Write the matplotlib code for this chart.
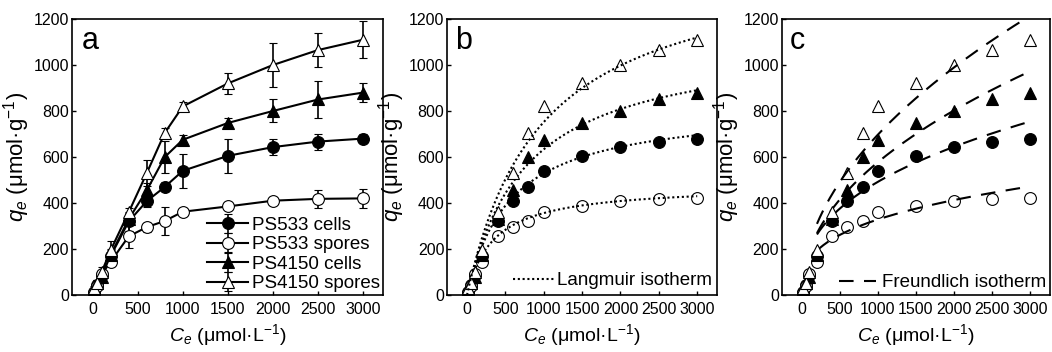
import numpy as np
import matplotlib
matplotlib.use("Agg")
import matplotlib.pyplot as plt

plt.rcParams['font.family'] = ['Liberation Sans', 'DejaVu Sans']
plt.rcParams['mathtext.fontset'] = 'custom'
plt.rcParams['mathtext.rm'] = 'Liberation Sans'
plt.rcParams['mathtext.it'] = 'Liberation Sans:italic'

# equilibrium concentrations (umol/L)
ce = [10, 50, 100, 200, 400, 600, 800, 1000, 1500, 2000, 2500, 3000]

# adsorbed amounts (umol/g)
ps533_cells = [15, 45, 85, 170, 320, 408, 470, 540, 605, 643, 667, 680]
ps533_spores = [10, 40, 90, 145, 255, 295, 322, 362, 385, 410, 418, 420]
ps4150_cells = [20, 50, 80, 175, 330, 455, 600, 675, 748, 800, 850, 880]
ps4150_spores = [30, 50, 100, 195, 360, 530, 705, 820, 920, 1000, 1065, 1110]

# error bars
ps533_cells_err = [10, 15, 20, 25, 40, 25, 20, 75, 75, 35, 35, 20]
ps533_spores_err = [10, 15, 20, 20, 50, 20, 60, 15, 15, 15, 40, 40]
ps4150_cells_err = [10, 15, 20, 25, 25, 30, 70, 20, 20, 50, 80, 40]
ps4150_spores_err = [10, 15, 20, 40, 20, 55, 20, 20, 45, 95, 75, 80]

# Langmuir parameters (qm, K)
lang_qm = [825, 479, 1117, 1482]
lang_k = [0.00178, 0.0029, 0.00131, 0.00103]

# Freundlich parameters (Kf, 1/n)
freu_kf = [33.5, 33.6, 21.7, 21.3]
freu_n = [0.389, 0.33, 0.475, 0.505]

names = ['PS533 cells', 'PS533 spores', 'PS4150 cells', 'PS4150 spores']
series = [ps533_cells, ps533_spores, ps4150_cells, ps4150_spores]
errs = [ps533_cells_err, ps533_spores_err, ps4150_cells_err, ps4150_spores_err]
markers = ['o', 'o', '^', '^']
faces = ['black', 'white', 'black', 'white']

fig = plt.figure(figsize=(10.52, 3.52), dpi=100, facecolor='white')
ax_a = fig.add_axes([0.0684, 0.162, 0.2956, 0.784])
ax_b = fig.add_axes([0.425, 0.162, 0.2567, 0.784])
ax_c = fig.add_axes([0.7433, 0.162, 0.2548, 0.784])

def msize(m):
    return 9 if m == '^' else 8.5

# panel a: data with error bars
for i in range(4):
    ax_a.errorbar(ce, series[i], yerr=errs[i], color='black', lw=1.5,
                  marker=markers[i], ms=msize(markers[i]), mfc=faces[i],
                  mec='black', mew=0.8, capsize=3, elinewidth=1.2,
                  capthick=1.2, label=names[i])

# panel b: Langmuir fits
xfit = np.linspace(0, 3000, 300)
for i in range(4):
    ax_b.plot(ce, series[i], ls='none', marker=markers[i], ms=msize(markers[i]),
              mfc=faces[i], mec='black', mew=0.8)
    y = lang_qm[i] * lang_k[i] * xfit / (1 + lang_k[i] * xfit)
    line, = ax_b.plot(xfit, y, ls=(0, (1, 1.3)), color='black', lw=1.5)
line.set_label('Langmuir isotherm')

# panel c: Freundlich fits
xfit2 = np.linspace(200, 3000, 300)
for i in range(4):
    ax_c.plot(ce, series[i], ls='none', marker=markers[i], ms=msize(markers[i]),
              mfc=faces[i], mec='black', mew=0.8)
    y = freu_kf[i] * xfit2 ** freu_n[i]
    line, = ax_c.plot(xfit2, y, ls=(0, (7, 5)), color='black', lw=1.5)
line.set_label('Freundlich isotherm')

letters = ['a', 'b', 'c']
xlims = [(-230, 3220), (-260, 3260), (-260, 3260)]
for ax, letter, xl in zip([ax_a, ax_b, ax_c], letters, xlims):
    ax.set_xlim(*xl)
    ax.set_ylim(0, 1200)
    ax.set_xticks([0, 500, 1000, 1500, 2000, 2500, 3000])
    ax.set_yticks([0, 200, 400, 600, 800, 1000, 1200])
    ax.tick_params(direction='in', length=3, width=1, labelsize=11.5, pad=2)
    ax.tick_params(axis='x', pad=5)
    for s in ax.spines.values():
        s.set_linewidth(1.2)
    ax.set_xlabel(r'$C_e$ (μmol·L$^{-1}$)', fontsize=14, labelpad=4)
    ax.set_ylabel(r'$q_e$ (μmol·g$^{-1}$)', fontsize=16, labelpad=1)
    ax.text(0.03, 0.975, letter, transform=ax.transAxes, fontsize=22,
            ha='left', va='top')

ax_a.legend(loc='lower right', frameon=False, fontsize=13.5, handlelength=2.2,
            handletextpad=0.2, labelspacing=0.12, borderaxespad=0.05,
            borderpad=0.1)
ax_b.legend(loc='lower right', frameon=False, fontsize=13.5, handlelength=2.2,
            handletextpad=0.1, borderaxespad=0.2, borderpad=0.1)
ax_c.legend(loc='lower right', frameon=False, fontsize=13.5, handlelength=2.0,
            handletextpad=0.3, borderaxespad=0.1, borderpad=0.1)

fig.savefig('out.png', dpi=100, facecolor='white')
